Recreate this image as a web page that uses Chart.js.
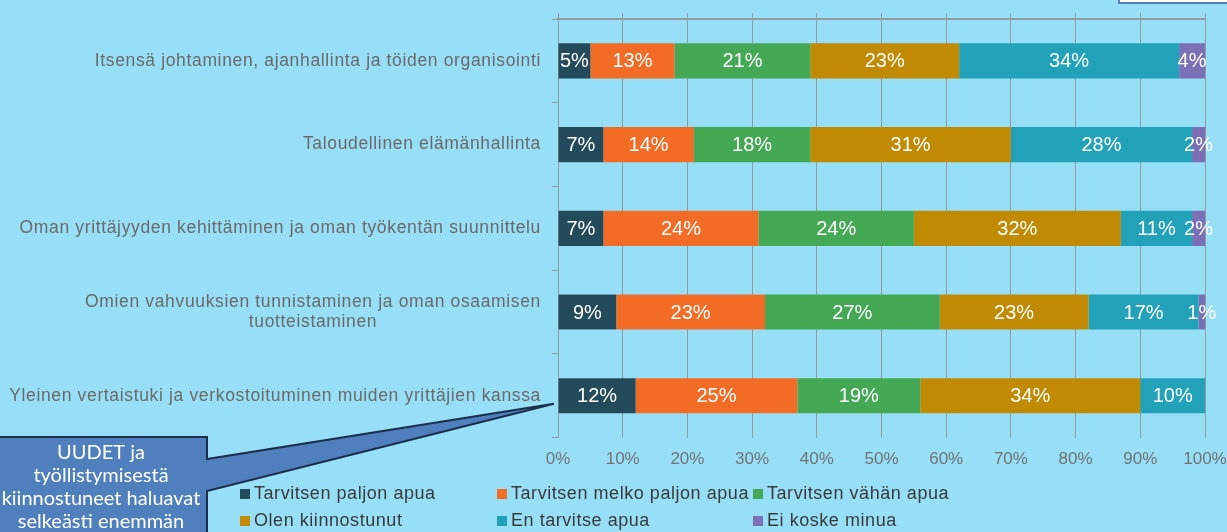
<!DOCTYPE html>
<html>
<head>
<meta charset="utf-8">
<script src="https://cdn.jsdelivr.net/npm/chart.js@4"></script>
<style>
  body { margin: 0; background: #96dff6; overflow: hidden; }
  #wrap { position: relative; width: 1227px; height: 532px; }
  #chart { position: absolute; left: 0; top: 0; }
  #topbox { position: absolute; left: 1118px; top: -20px; width: 130px; height: 20px; background: #fff; border: 2px solid #4f81bd; }
  #legend { position: absolute; left: 240px; top: 482px; display: grid; grid-template-columns: 257px 256px 220px; row-gap: 4px;
            font: 18px "Liberation Sans", Arial, sans-serif; color: #3a3a3a; letter-spacing: 0.55px; }
  .item { display: flex; align-items: center; white-space: nowrap; height: 23px; }
  .box { width: 10px; height: 10px; margin-right: 4px; flex: none; }
</style>
</head>
<body>
<div id="wrap">
  <canvas id="chart" width="1227" height="532"></canvas>
  <div id="topbox"></div>
  <div id="legend"></div>
</div>
<script>
const categories = [
  "Itsensä johtaminen, ajanhallinta ja töiden organisointi",
  "Taloudellinen elämänhallinta",
  "Oman yrittäjyyden kehittäminen ja oman työkentän suunnittelu",
  ["Omien vahvuuksien tunnistaminen ja oman osaamisen", "tuotteistaminen"],
  "Yleinen vertaistuki ja verkostoituminen muiden yrittäjien kanssa"
];

const seriesNames = [
  "Tarvitsen paljon apua",
  "Tarvitsen melko paljon apua",
  "Tarvitsen vähän apua",
  "Olen kiinnostunut",
  "En tarvitse apua",
  "Ei koske minua"
];

const paljonApua   = [5, 7, 7, 9, 12];
const melkoPaljon  = [13, 14, 24, 23, 25];
const vahanApua    = [21, 18, 24, 27, 19];
const kiinnostunut = [23, 31, 32, 23, 34];
const enTarvitse   = [34, 28, 11, 17, 10];
const eiKoske      = [4, 2, 2, 1, 0];

const xTicks = [0, 10, 20, 30, 40, 50, 60, 70, 80, 90, 100];

const colors = ["#234b5b", "#f36c25", "#44a855", "#c08a03", "#22a2b8", "#7b70b5"];
const gridGray = "#8f9ca2";

const calloutLines = ["UUDET ja", "työllistymisestä", "kiinnostuneet haluavat", "selkeästi enemmän"];

const seriesData = [paljonApua, melkoPaljon, vahanApua, kiinnostunut, enTarvitse, eiKoske];

// white percentage labels in the middle of each segment
const barLabels = {
  id: "barLabels",
  afterDatasetsDraw(chart) {
    const ctx = chart.ctx;
    ctx.save();
    ctx.font = '20px "Liberation Sans", Arial, sans-serif';
    ctx.fillStyle = "#fff";
    ctx.textAlign = "center";
    ctx.textBaseline = "middle";
    chart.data.datasets.forEach((ds, i) => {
      chart.getDatasetMeta(i).data.forEach((bar, j) => {
        const v = ds.data[j];
        if (!v) return;
        ctx.fillText(v + "%", (bar.x + bar.base) / 2, bar.y + 1);
      });
    });
    ctx.restore();
  }
};

// category labels: right aligned, wrapped lines centred under each other
const catLabels = {
  id: "catLabels",
  afterDraw(chart) {
    const ctx = chart.ctx;
    const y = chart.scales.y;
    const right = chart.chartArea.left - 17;
    ctx.save();
    ctx.font = '17.5px "Liberation Sans", Arial, sans-serif';
    ctx.letterSpacing = "0.65px";
    ctx.fillStyle = "#6a6a6a";
    ctx.textBaseline = "middle";
    ctx.textAlign = "center";
    categories.forEach((c, i) => {
      const lines = Array.isArray(c) ? c : [c];
      const w = Math.max(...lines.map(l => ctx.measureText(l).width));
      const cy = y.getPixelForTick(i);
      lines.forEach((l, k) => {
        ctx.fillText(l, right - w / 2, cy + (k - (lines.length - 1) / 2) * 20);
      });
    });
    ctx.restore();
  }
};

// speech bubble pointing at the last category
const callout = {
  id: "callout",
  afterDraw(chart) {
    const ctx = chart.ctx;
    const tipX = chart.chartArea.left - 4;
    const tipY = chart.scales.y.getPixelForTick(4) + 8;
    ctx.save();
    ctx.beginPath();
    ctx.moveTo(-10, 437);
    ctx.lineTo(207, 437);
    ctx.lineTo(207, 459);
    ctx.lineTo(tipX, tipY);
    ctx.lineTo(207, 491);
    ctx.lineTo(207, 560);
    ctx.lineTo(-10, 560);
    ctx.closePath();
    ctx.fillStyle = "#4f80bd";
    ctx.fill();
    ctx.lineWidth = 2;
    ctx.strokeStyle = "#1b2f4a";
    ctx.stroke();
    ctx.font = '20px Lato, "Open Sans", sans-serif';
    ctx.fillStyle = "#fff";
    ctx.textAlign = "center";
    ctx.textBaseline = "middle";
    calloutLines.forEach((l, i) => ctx.fillText(l, 101, 453 + i * 23));
    ctx.restore();
  }
};

const chart = new Chart(document.getElementById("chart"), {
  type: "bar",
  data: {
    labels: categories,
    datasets: seriesNames.map((name, i) => ({
      label: name,
      data: seriesData[i],
      backgroundColor: colors[i],
      barPercentage: 0.42,
      categoryPercentage: 1
    }))
  },
  options: {
    indexAxis: "y",
    responsive: false,
    animation: false,
    layout: { padding: { top: 13, right: 0, bottom: 50, left: 0 } },
    plugins: { legend: { display: false }, tooltip: { enabled: false } },
    scales: {
      x: {
        stacked: true,
        min: 0,
        max: 100,
        afterBuildTicks: s => { s.ticks = xTicks.map(v => ({ value: v })); },
        afterFit: s => { s.paddingRight = 22; s.paddingLeft = 0; },
        ticks: {
          callback: v => v + "%",
          color: "#727272",
          font: { size: 17, family: '"Liberation Sans", Arial, sans-serif' },
          padding: 12,
          maxRotation: 0
        },
        grid: { color: gridGray, drawTicks: false },
        border: { display: false }
      },
      x2: {
        position: "top",
        min: 0,
        max: 100,
        afterBuildTicks: s => { s.ticks = xTicks.map(v => ({ value: v })); },
        afterFit: s => { s.paddingRight = 22; s.paddingLeft = 0; },
        ticks: { display: false },
        grid: { drawOnChartArea: false, tickLength: 6, color: gridGray },
        border: { display: true, color: gridGray, width: 2 }
      },
      y: {
        stacked: true,
        afterFit: s => { s.width = 558; },
        ticks: { color: "transparent", font: { size: 17 } },
        grid: { offset: true, drawOnChartArea: false, tickLength: 6, color: gridGray },
        border: { display: true, color: gridGray }
      }
    }
  },
  plugins: [barLabels, catLabels, callout]
});

const legend = document.getElementById("legend");
chart.data.datasets.forEach(ds => {
  const item = document.createElement("div");
  item.className = "item";
  item.innerHTML = `<span class="box" style="background:${ds.backgroundColor}"></span>${ds.label}`;
  legend.appendChild(item);
});
</script>
</body>
</html>
